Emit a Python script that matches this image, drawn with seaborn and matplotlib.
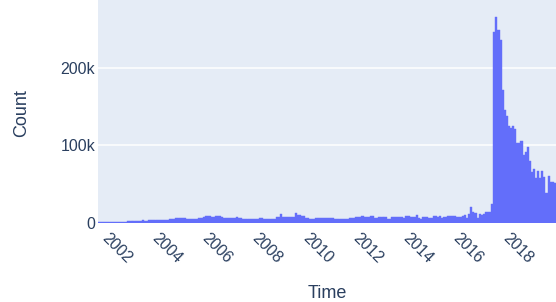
import numpy as np
import pandas as pd
import matplotlib
matplotlib.use("Agg")
import matplotlib.pyplot as plt
import matplotlib.dates as mdates
from matplotlib.ticker import FixedLocator
import seaborn as sns

# ---- data: monthly counts (in thousands), Oct 2001 .. Dec 2019 ----
first_month = "2001-10-01"
counts_k = [
    # 2001-10 .. (bins 0-13)
    1.6, 1.7, 1.7, 1.6, 1.7, 1.7, 1.8, 1.7, 1.6, 1.7, 1.7, 1.8, 1.7, 1.7,
    # bins 14-20
    3.0, 3.0, 2.9, 3.0, 3.1, 3.0, 3.0,
    # 21-28
    4.3, 3.0, 3.0, 4.3, 4.3, 3.4, 3.4, 3.4,
    # 29-36
    4.0, 4.0, 4.1, 4.0, 4.0, 5.1, 5.1, 5.1,
    # 37-47
    6.4, 6.4, 6.5, 6.4, 6.4, 5.0, 5.0, 5.1, 5.0, 5.0, 5.0,
    # 48-59
    5.8, 5.8, 7.3, 9.0, 9.0, 9.0, 7.3, 7.3, 9.0, 9.0, 9.0, 7.7,
    # 60-68
    6.4, 6.4, 6.8, 6.8, 6.8, 6.8, 7.7, 6.4, 6.4,
    # 69-78
    5.1, 5.1, 5.1, 5.1, 5.1, 5.1, 5.1, 5.1, 6.4, 6.4,
    # 79-87
    5.6, 5.6, 5.6, 5.6, 5.6, 5.6, 7.3, 7.3, 11.0,
    # 88-98
    7.7, 7.7, 7.7, 7.3, 7.3, 7.3, 12.4, 9.8, 9.8, 9.0, 8.5,
    # 99-112
    6.0, 6.0, 5.0, 5.0, 5.0, 6.0, 6.0, 6.0, 6.0, 6.0, 6.0, 6.0, 6.0, 6.0,
    # 113-122
    5.0, 5.0, 5.0, 5.0, 5.0, 5.0, 5.0, 6.0, 6.0, 5.8,
    # 123-133
    7.7, 7.7, 7.7, 8.5, 7.7, 7.7, 7.7, 8.5, 8.5, 6.8, 6.8,
    # 134-146
    7.7, 7.7, 7.7, 7.7, 5.0, 5.0, 7.7, 7.7, 7.7, 7.7, 7.7, 7.7, 7.0,
    # 147-159
    8.5, 8.5, 7.7, 7.7, 7.7, 10.0, 6.0, 5.0, 7.7, 7.7, 7.7, 6.8, 6.8,
    # 160-172
    8.5, 8.5, 7.7, 8.5, 6.8, 7.7, 7.7, 8.5, 8.5, 8.5, 8.5, 7.7, 7.7,
    # 173-188
    8.0, 8.6, 9.8, 6.4, 11.5, 20.0, 14.7, 13.4, 7.0, 11.0, 9.8, 11.0,
    14.7, 14.7, 14.7, 24.0,
    # 189-218 (Jul 2017 ..)
    246, 265, 249, 235, 171, 146, 138, 125, 122, 125, 121, 103.5, 102.5,
    106, 87, 92, 98, 80, 65.5, 69.5, 58.5, 67, 58.5, 67, 59.5, 38.5, 60.5,
    52.5, 52.5, 52.0,
]
tick_years = [2002, 2004, 2006, 2008, 2010, 2012, 2014, 2016, 2018]
y_ticks = [0, 100000, 200000]
y_tick_labels = ["0", "100k", "200k"]

n = len(counts_k)
edges = pd.date_range(first_month, periods=n + 1, freq="MS")
edges_num = [float(v) for v in mdates.date2num(edges.to_pydatetime())]
centers_num = [(a + b) / 2 for a, b in zip(edges_num[:-1], edges_num[1:])]
df = pd.DataFrame({"Time": centers_num, "count": np.array(counts_k) * 1000})

# ---- style ----
text_color = "#2a3f5f"
plt.rcParams["font.family"] = ["Liberation Sans", "DejaVu Sans"]

fig = plt.figure(figsize=(5.56, 3.02), dpi=100)
ax = fig.add_axes([98 / 556, 1 - 223 / 302, 1 - 98 / 556, 223 / 302])
ax.set_facecolor("#E5ECF6")

sns.histplot(data=df, x="Time", weights="count", bins=edges_num,
             color="#636EFA", alpha=1.0, edgecolor="#636EFA", linewidth=0.3,
             ax=ax, zorder=2)

ax.set_xlim(edges_num[0], edges_num[-1])
ax.set_ylim(0, 287000)

for s in ax.spines.values():
    s.set_visible(False)

ax.yaxis.set_major_locator(FixedLocator(y_ticks))
ax.set_yticklabels(y_tick_labels)
ax.grid(axis="y", color="white", linewidth=1.1, zorder=0)
ax.grid(axis="x", visible=False)
ax.set_axisbelow(True)

xt = [float(mdates.date2num(pd.Timestamp(f"{y}-01-01").to_pydatetime())) for y in tick_years]
ax.set_xticks(xt)
ax.set_xticklabels([str(y) for y in tick_years], rotation=-45, ha="left",
                   va="center", rotation_mode="anchor")

ax.tick_params(axis="both", length=0, labelsize=11.5, colors=text_color)
ax.tick_params(axis="x", pad=9.5)
ax.tick_params(axis="y", pad=2)

ax.set_xlabel("Time", fontsize=13, color=text_color)
ax.set_ylabel("Count", fontsize=13, color=text_color)
ax.xaxis.set_label_coords(0.5, -(294 - 223) / 223)
ax.yaxis.set_label_coords(-(98 - 22) / 458, (223 - 113) / 223)
ax.xaxis.label.set_va("center")
ax.yaxis.label.set_va("center")

fig.savefig("out.png", dpi=100)
